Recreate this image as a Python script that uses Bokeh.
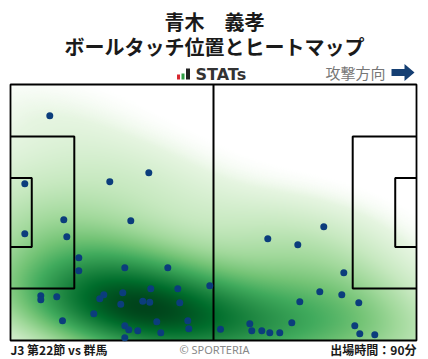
import numpy as np
from bokeh.plotting import figure
from bokeh.models import Range1d
from bokeh.core.properties import value
from bokeh.embed import file_html
from bokeh.resources import INLINE

# ---------------- data (pitch metres, 105 x 68, attack to the right) ----------------
touch_x = [10.16, 3.70, 25.68, 35.77, 13.78, 31.11, 3.70, 14.56, 17.66, 17.66,
           29.56, 40.68, 51.54, 7.84, 7.84, 11.97, 24.13, 23.09, 29.04, 36.28,
           43.27, 28.52, 34.21, 36.02, 43.78, 21.54, 13.45, 37.83, 45.85, 29.56,
           30.59, 32.92, 38.87, 46.11, 29.56, 54.31, 81.02, 66.54, 74.30, 86.20,
           79.99, 85.68, 74.82, 90.07, 72.75, 61.89, 62.40, 64.99, 67.06, 69.64,
           89.04, 90.33, 94.21]
touch_y = [59.69, 41.62, 42.15, 44.54, 32.06, 31.80, 28.34, 27.55, 21.97, 18.51,
           19.31, 19.31, 14.53, 11.87, 10.81, 11.61, 12.14, 11.08, 12.67, 13.73,
           13.73, 9.64, 10.44, 10.17, 10.01, 7.09, 5.23, 4.97, 5.23, 3.90,
           2.84, 2.58, 2.05, 3.11, 0.72, 3.00, 30.20, 27.01, 25.42, 17.98,
           12.94, 12.14, 10.28, 10.01, 4.70, 4.44, 2.58, 2.58, 2.05, 2.05,
           3.90, 1.78, 1.51]

title_name = "青木　義孝"
title_sub = "ボールタッチ位置とヒートマップ"
logo_text = "STATs"
direction_text = "攻撃方向"
footer_left = "J3 第22節 vs 群馬"
footer_mid = "© SPORTERIA"
footer_right = "出場時間：90分"

PITCH_L, PITCH_W = 105.0, 68.0

# ---------------- layout helpers (page pixel -> pitch coords) ----------------
SX = 406 / PITCH_L
SY = 256 / PITCH_W


def hx(px):
    return (px - 10) / SX


def vy(py):
    return (340 - py) / SY


W, H = 428, 359
p = figure(width=W, height=H, output_backend="svg", toolbar_location=None,
           x_range=Range1d(hx(0), hx(W)), y_range=Range1d(vy(H), vy(0)),
           x_axis_type=None, y_axis_type=None, min_border=0)
p.outline_line_color = None
p.grid.visible = False
p.background_fill_color = "white"
p.border_fill_color = "white"

# ---------------- heat map (KDE of the touches) ----------------
nx, ny = 406, 256
X = np.array(touch_x)
Y = np.array(touch_y)
data = np.vstack([X, Y])
factor = 1.3 * data.shape[1] ** (-1.0 / 6.0)
cov = np.cov(data) * factor ** 2
inv = np.linalg.inv(cov)
gx = (np.arange(nx) + 0.5) / nx * PITCH_L
gy = (np.arange(ny) + 0.5) / ny * PITCH_W
GX, GY = np.meshgrid(gx, gy)
dens = np.zeros_like(GX)
for xi, yi in zip(X, Y):
    dx = GX - xi
    dy = GY - yi
    q = inv[0, 0] * dx * dx + 2 * inv[0, 1] * dx * dy + inv[1, 1] * dy * dy
    dens += np.exp(-0.5 * q)
dens /= dens.max()

greens = ["#f7fcf5", "#e5f5e0", "#c7e9c0", "#a1d99b", "#74c476",
          "#41ab5d", "#238b45", "#006d2c", "#00441b"]
stops = np.linspace(0, 1, len(greens))
rgb = np.array([[int(c[i:i + 2], 16) for i in (1, 3, 5)] for c in greens], dtype=float)
t = np.clip(dens, 0, 1) ** 0.8
img = np.zeros((ny, nx, 4), dtype=np.uint8)
for k in range(3):
    img[..., k] = np.interp(t, stops, rgb[:, k]).astype(np.uint8)
alpha = np.clip((dens - 0.02) / 0.05, 0, 1)
img[..., 3] = (alpha * 255).astype(np.uint8)
p.image_rgba(image=[img.view(dtype=np.uint32).reshape(ny, nx)], x=0, y=0,
             dw=PITCH_L, dh=PITCH_W)

# ---------------- pitch lines ----------------
lc = "black"
p.rect(x=PITCH_L / 2, y=PITCH_W / 2, width=PITCH_L, height=PITCH_W,
       fill_color=None, line_color=lc, line_width=1.8)
p.line([PITCH_L / 2, PITCH_L / 2], [0, PITCH_W], line_color=lc, line_width=2)
pb_d, pb_h = 16.5, 40.32
ga_d, ga_h = 5.5, 18.32
for x0, sgn in ((0, 1), (PITCH_L, -1)):
    for d, h in ((pb_d, pb_h), (ga_d, ga_h)):
        y0 = PITCH_W / 2 - h / 2
        y1 = PITCH_W / 2 + h / 2
        xe = x0 + sgn * d
        p.line([x0, xe, xe, x0], [y1, y1, y0, y0], line_color=lc, line_width=2)

# ---------------- touches ----------------
p.scatter(touch_x, touch_y, size=7, fill_color="#0b3d7c", line_color=None)

# ---------------- header ----------------
jp = value("Noto Sans CJK JP")
p.text(x=[hx(214)], y=[vy(21)], text=[title_name], text_font=jp,
       text_font_size=value("20px"), text_font_style="bold", text_color="#1a1a1a",
       text_align="center", text_baseline="middle")
p.text(x=[hx(214)], y=[vy(46)], text=[title_sub], text_font=jp,
       text_font_size=value("20px"), text_font_style="bold", text_color="#1a1a1a",
       text_align="center", text_baseline="middle")

# STATs logo
p.quad(left=[hx(176.5), hx(181), hx(185.5)], right=[hx(179.5), hx(184), hx(189.5)],
       bottom=[vy(79), vy(79), vy(79)], top=[vy(74), vy(73), vy(68)],
       fill_color=["#d7262f", "#2f9e44", "#222222"], line_color=None)
p.text(x=[hx(195)], y=[vy(73.5)], text=[logo_text], text_font=value("DejaVu Sans"),
       text_font_size=value("16px"), text_font_style="bold", text_color="#333333",
       text_align="left", text_baseline="middle")

# attack direction
p.text(x=[hx(385)], y=[vy(72)], text=[direction_text], text_font=jp,
       text_font_size=value("15px"), text_color="#777777",
       text_align="right", text_baseline="middle")
p.patch(x=[hx(391), hx(404), hx(404), hx(414), hx(404), hx(404), hx(391)],
        y=[vy(68.5), vy(68.5), vy(63.5), vy(72), vy(80.5), vy(75.5), vy(75.5)],
        fill_color="#153f73", line_color=None)

# ---------------- footer ----------------
p.text(x=[hx(10)], y=[vy(349)], text=[footer_left], text_font=jp,
       text_font_size=value("12px"), text_font_style="bold", text_color="#1a1a1a",
       text_align="left", text_baseline="middle")
p.text(x=[hx(214)], y=[vy(349)], text=[footer_mid], text_font=value("Noto Sans"),
       text_font_size=value("11px"), text_color="#888888",
       text_align="center", text_baseline="middle")
p.text(x=[hx(416)], y=[vy(349)], text=[footer_right], text_font=jp,
       text_font_size=value("12px"), text_font_style="bold", text_color="#1a1a1a",
       text_align="right", text_baseline="middle")

open("out.html", "w").write(file_html(p, INLINE))
